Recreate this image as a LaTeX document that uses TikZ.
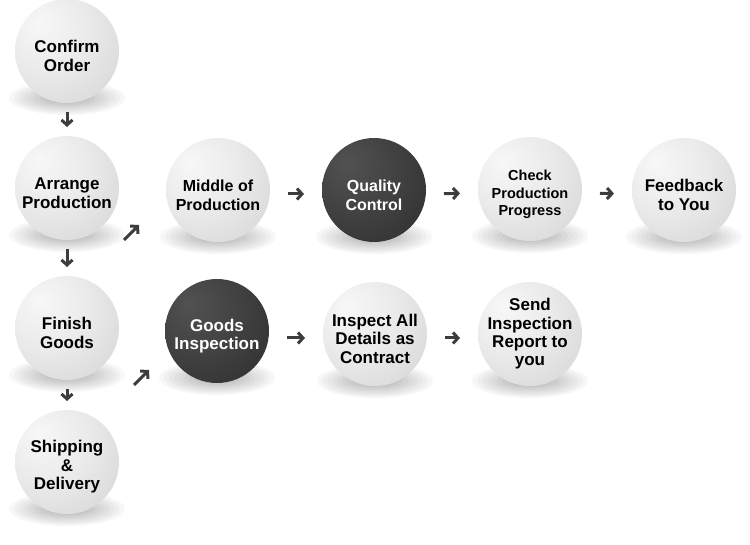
\documentclass[tikz,border=0pt]{standalone}
\usepackage{fontspec}
\setmainfont{Liberation Sans}
\usetikzlibrary{arrows.meta, backgrounds}
% sphere shadings: light ball and dark ball
\pgfdeclareradialshading{wball}{\pgfpoint{-14bp}{14bp}}{%
  color(0bp)=(black!3); color(20bp)=(black!8); color(44bp)=(black!17);
  color(58bp)=(black!28); color(70bp)=(black!32)}
\pgfdeclareradialshading{dball}{\pgfpoint{-14bp}{14bp}}{%
  color(0bp)=(black!68); color(20bp)=(black!74); color(44bp)=(black!82);
  color(58bp)=(black!86); color(70bp)=(black!88)}
% pushes a ball's text a little below its centre
\newcommand{\tstrut}{\rule{0pt}{22pt}}
\tikzset{
  % a light ball
  wb/.style   = {circle, minimum size=104pt, inner sep=-16pt, outer sep=0pt,
                 shade, shading=wball, align=center, text=black,
                 font=\bfseries\fontsize{17}{18.3}\selectfont},
  % a dark ball
  db/.style   = {wb, shading=dball, text=white},
  % one ring of the soft shadow under a ball
  sh/.style   = {fill=black, opacity=0.03},
  % a short chevron arrow
  arr/.style  = {-{Straight Barb[length=5pt,width=11pt]}, line width=3pt,
                 draw=black!76},
  % down and right arrows between balls
  darr/.style = {arr, shorten <=9pt, shorten >=9pt},
  harr/.style = {arr, shorten <=18pt, shorten >=18pt},
}

\begin{document}
\begin{tikzpicture}[x=1pt, y=-1pt]
  \useasboundingbox (0,0) rectangle (750,545);
  % left column
  \node[wb] (confirm)  at ( 67, 51) {\tstrut Confirm\\Order};
  \node[wb] (arrange)  at ( 67,188) {\tstrut Arrange\\Production};
  \node[wb] (finish)   at ( 67,328) {\tstrut Finish\\Goods};
  \node[wb] (ship)     at ( 67,462) {\tstrut Shipping\\\&\\Delivery};
  % production row
  \node[wb, font=\bfseries\fontsize{16}{18.3}\selectfont]
                       (middle)   at (218,190) {\tstrut Middle of\\Production};
  \node[db, font=\bfseries\fontsize{16}{18.3}\selectfont]
                       (quality)  at (374,190) {\tstrut Quality\\Control};
  \node[wb, font=\bfseries\fontsize{14.5}{17.5}\selectfont]
                       (check)    at (530,189) {\tstrut Check\\Production\\Progress};
  \node[wb]            (feedback) at (684,190) {\tstrut Feedback\\to You};
  % inspection row
  \node[db] (goods)    at (217,331) {\tstrut Goods\\Inspection};
  \node[wb] (inspect)  at (375,334) {\tstrut Inspect All\\Details as\\Contract};
  \node[wb] (send)     at (530,334) {Send\\Inspection\\Report to\\you};
  % shadows
  \begin{scope}[on background layer]
    \foreach \b in {confirm, arrange, finish, ship, middle, quality, check,
                    feedback, goods, inspect, send}
      \foreach \k in {0,...,7}
        \fill[sh] ([yshift=5pt]\b.south)
          ellipse ({(58-5*\k)*1pt} and {(17-1.6*\k)*1pt});
  \end{scope}
  % arrows
  \draw[darr] (confirm) -- (arrange);
  \draw[darr] (arrange) -- (finish);
  \draw[darr] (finish)  -- (ship);
  \draw[harr] ([yshift=-4pt]middle.east)  -- ([yshift=-4pt]quality.west);
  \draw[harr] ([yshift=-4pt]quality.east) -- ([yshift=-4pt]check.west);
  \draw[harr] ([yshift=-4pt]check.east)   -- ([yshift=-4pt]feedback.west);
  \draw[harr] ([yshift=-7pt]goods.east)   -- ([yshift=-4pt]inspect.west);
  \draw[harr] ([yshift=-4pt]inspect.east) -- ([yshift=-4pt]send.west);
  % the two slanted arrows into the second column
  \coordinate (up1a) at (124,240);
  \coordinate (up1b) at (139,225);
  \coordinate (up2a) at (134,385);
  \coordinate (up2b) at (149,370);
  \draw[arr] (up1a) -- (up1b);
  \draw[arr] (up2a) -- (up2b);
\end{tikzpicture}
\end{document}
